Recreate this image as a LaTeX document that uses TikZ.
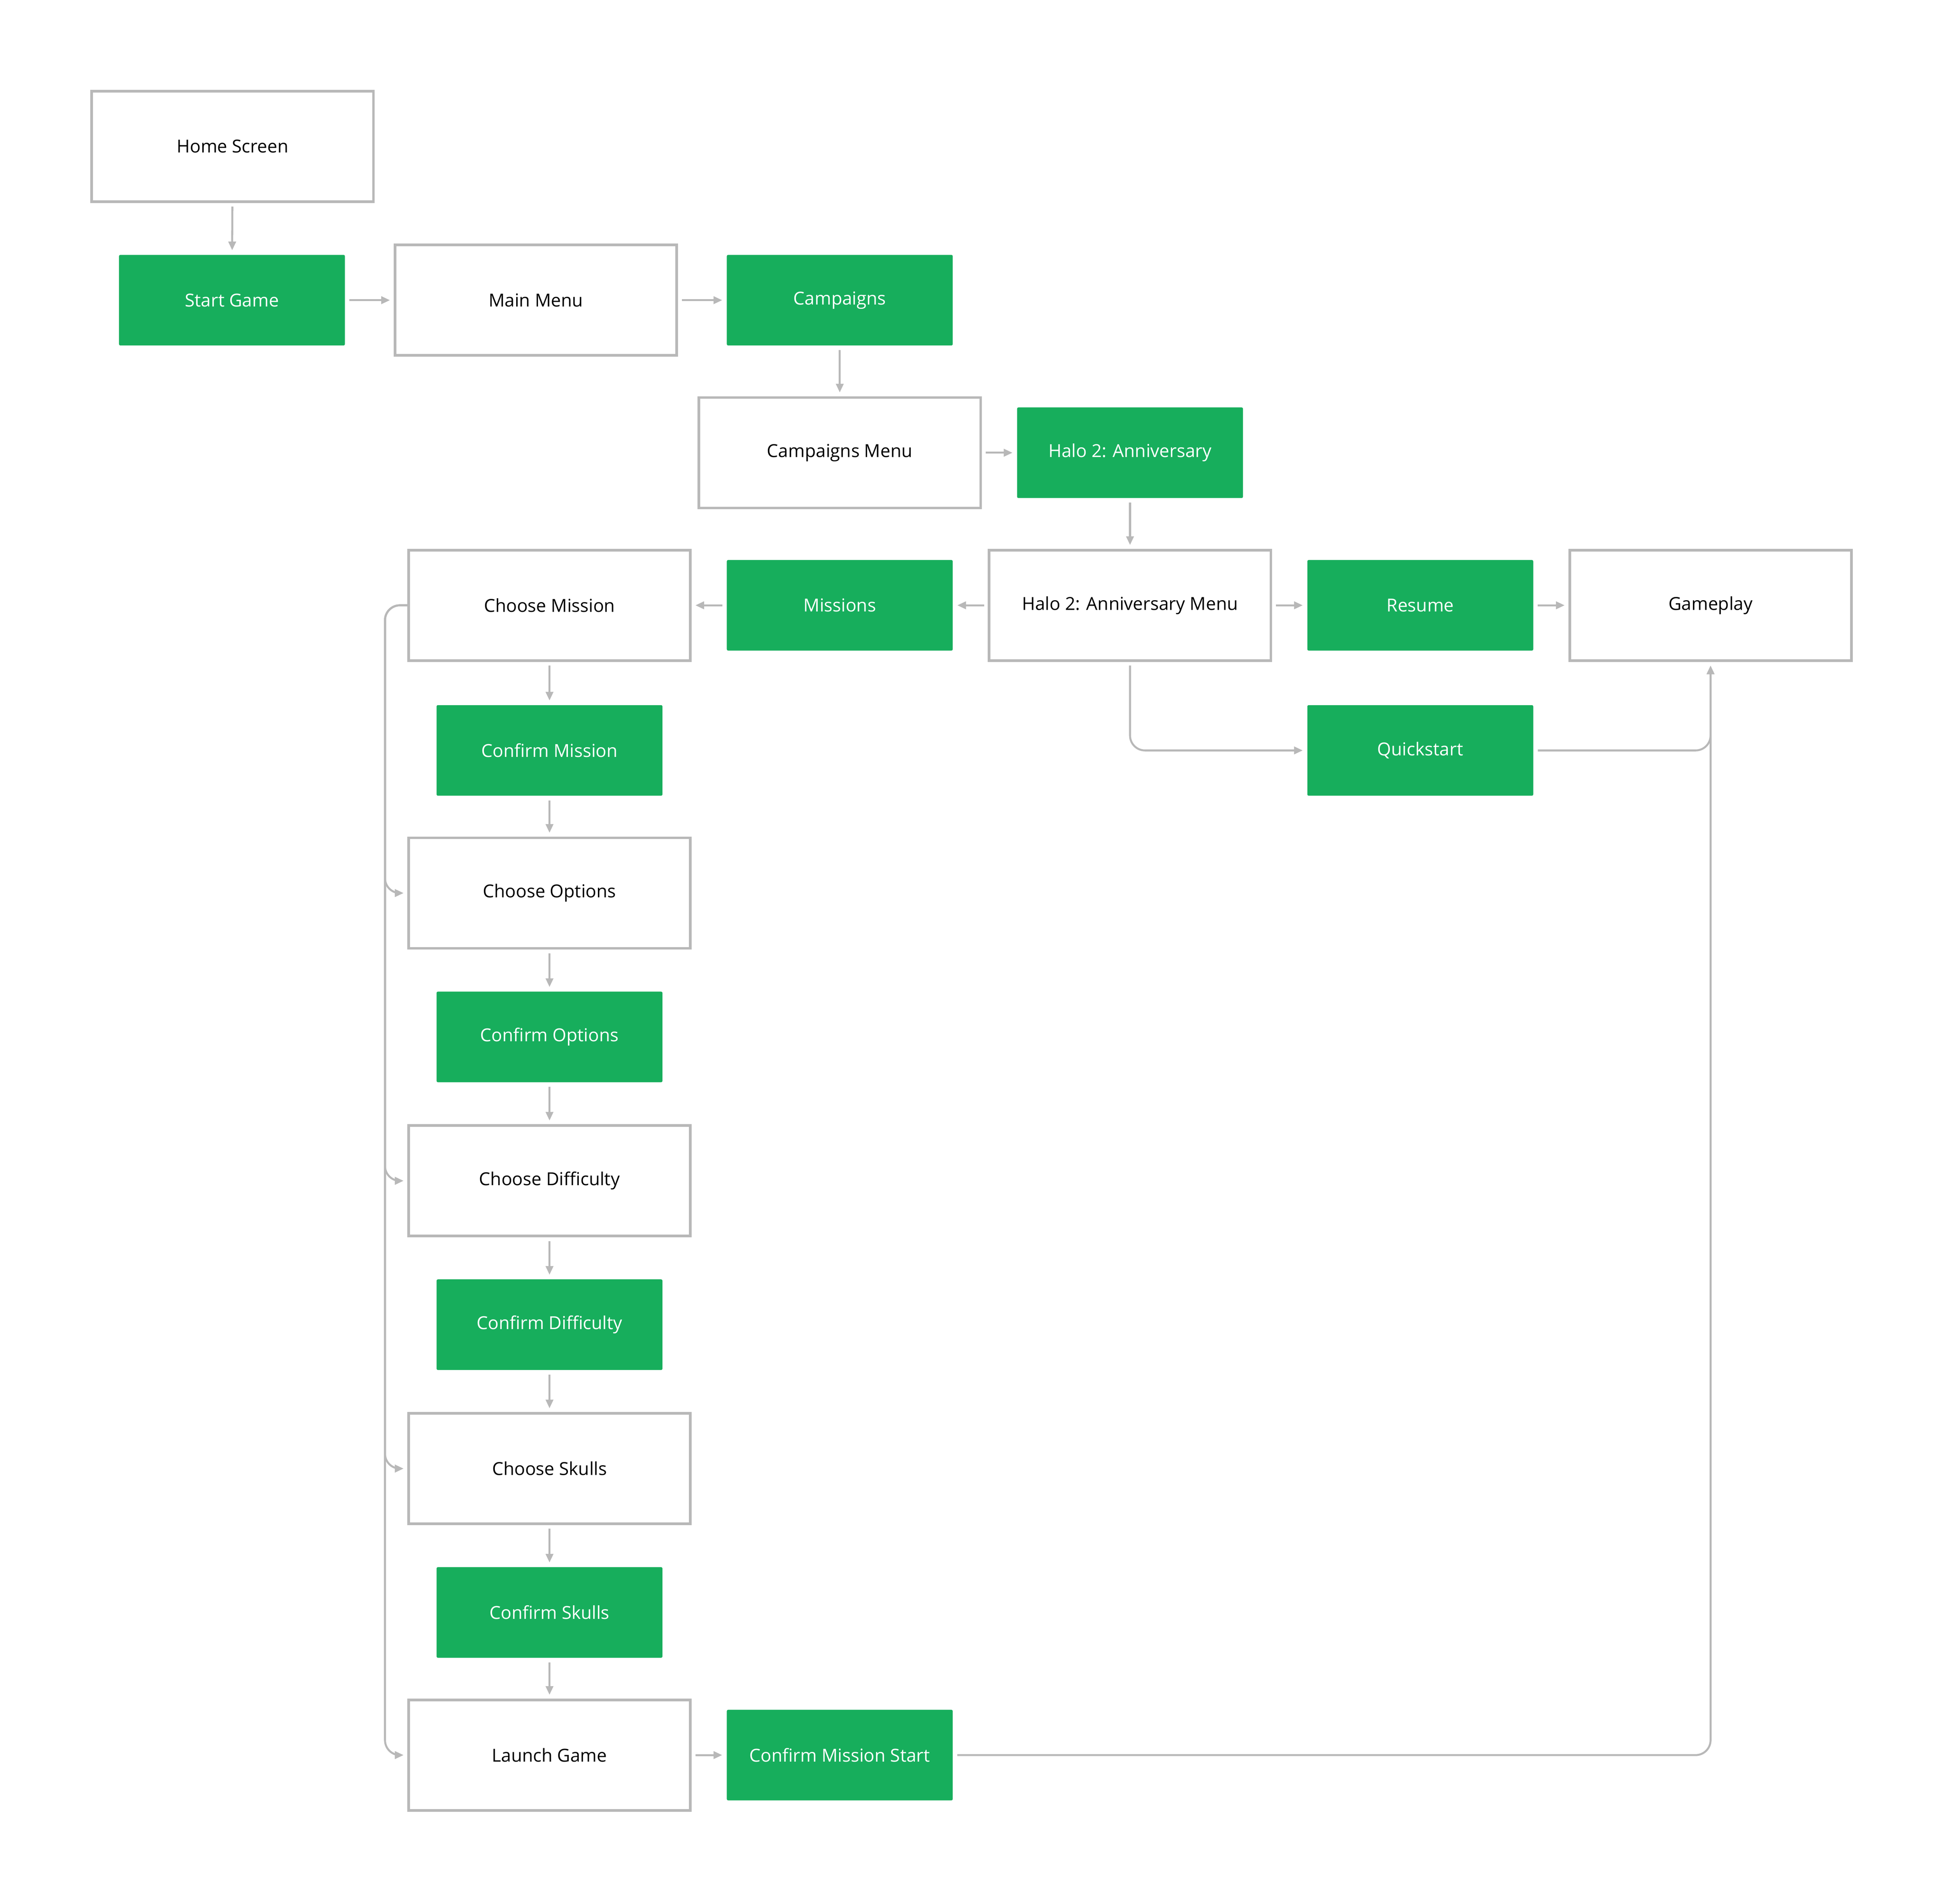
\documentclass[tikz,border=0pt]{standalone}
\usepackage{fontspec}
\setmainfont{Open Sans}
\usetikzlibrary{arrows.meta}
\definecolor{flowgreen}{HTML}{17AE5C}
\definecolor{flowgray}{HTML}{B8B8B8}
\begin{document}
\begin{tikzpicture}[x=0.01cm,y=-0.01cm,font=\fontsize{4.1}{5}\selectfont]
\tikzstyle{screen} = [rectangle, minimum width=2.27cm, minimum height=0.89cm, text centered, draw=flowgray, line width=0.6pt, fill=white]
\tikzstyle{action} = [rectangle, rounded corners=0.3pt, minimum width=1.82cm, minimum height=0.73cm, text centered, fill=flowgreen, text=white]
\tikzstyle{arrow} = [draw=flowgray, line width=0.45pt, -{Triangle[length=0.07cm,width=0.06cm]}, shorten >=0.03cm, shorten <=0.03cm, rounded corners=0.12cm]

\useasboundingbox (0,0) rectangle (1568,1535);

\node [screen] (home) at (187.5,118) {Home Screen};
\node [action] (start) at (187,242) {Start Game};
\node [screen] (mainmenu) at (432,242) {Main Menu};
\node [action] (campaigns) at (677,242) {Campaigns};
\node [screen] (campmenu) at (677,365) {Campaigns Menu};
\node [action] (halo) at (911,365) {Halo 2: Anniversary};
\node [screen] (halomenu) at (911,488) {Halo 2: Anniversary Menu};
\node [action] (missions) at (677,488) {Missions};
\node [screen] (choosemission) at (443,488) {Choose Mission};
\node [action] (resume) at (1145,488) {Resume};
\node [screen] (gameplay) at (1379,488) {Gameplay};
\node [action] (quickstart) at (1145,605) {Quickstart};
\node [action] (confmission) at (443,605) {Confirm Mission};
\node [screen] (chooseoptions) at (443,720) {Choose Options};
\node [action] (confoptions) at (443,836) {Confirm Options};
\node [screen] (choosediff) at (443,952) {Choose Difficulty};
\node [action] (confdiff) at (443,1068) {Confirm Difficulty};
\node [screen] (chooseskulls) at (443,1184) {Choose Skulls};
\node [action] (confskulls) at (443,1300) {Confirm Skulls};
\node [screen] (launch) at (443,1415) {Launch Game};
\node [action] (confstart) at (677,1415) {Confirm Mission Start};

\draw [arrow] (home) -- (start);
\draw [arrow] (start) -- (mainmenu);
\draw [arrow] (mainmenu) -- (campaigns);
\draw [arrow] (campaigns) -- (campmenu);
\draw [arrow] (campmenu) -- (halo);
\draw [arrow] (halo) -- (halomenu);
\draw [arrow] (halomenu) -- (missions);
\draw [arrow] (missions) -- (choosemission);
\draw [arrow] (halomenu) -- (resume);
\draw [arrow] (resume) -- (gameplay);
\draw [arrow] (halomenu.south) |- (quickstart.west);
\draw [arrow] (quickstart.east) -| (gameplay.south);
\draw [arrow] (confstart.east) -| (gameplay.south);
\draw [arrow] (choosemission) -- (confmission);
\draw [arrow] (confmission) -- (chooseoptions);
\draw [arrow] (chooseoptions) -- (confoptions);
\draw [arrow] (confoptions) -- (choosediff);
\draw [arrow] (choosediff) -- (confdiff);
\draw [arrow] (confdiff) -- (chooseskulls);
\draw [arrow] (chooseskulls) -- (confskulls);
\draw [arrow] (confskulls) -- (launch);
\draw [arrow] (launch) -- (confstart);
% skip paths on the left
\foreach \target in {chooseoptions,choosediff,chooseskulls,launch}
  \draw [arrow, shorten <=0cm] (choosemission.west) -- ++(-18,0) |- (\target.west);
\end{tikzpicture}
\end{document}
